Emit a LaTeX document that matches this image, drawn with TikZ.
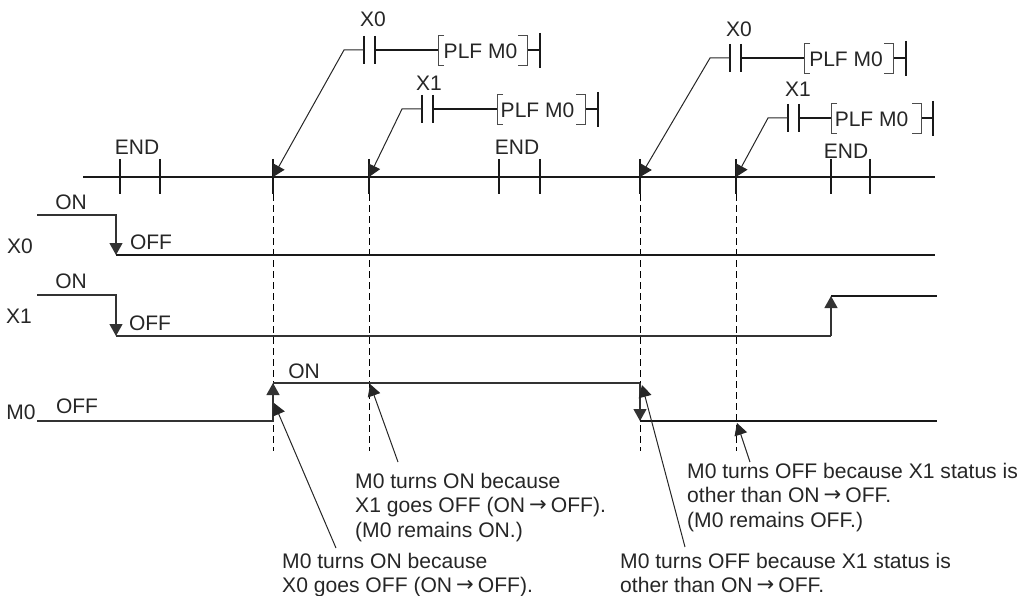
\documentclass[tikz,border=0pt]{standalone}
\usepackage{fontspec}
\setmainfont{Liberation Sans}
\newfontfamily\arrowfont{DejaVu Sans}
\newcommand{\toarrow}{\kern4pt{\arrowfont\raisebox{0.06em}{→}}\kern4pt}
\usetikzlibrary{arrows.meta}
\tikzset{
 x=1pt,y=-1pt,
 wire/.style={line width=1.2pt,draw=black!90},
 thick wire/.style={line width=1.9pt,draw=black!90},
 tick/.style={line width=1.4pt,draw=black!90},
 lead/.style={line width=1pt,draw=black!85},
 brk/.style={line width=0.9pt,draw=black!70},
 sig/.style={line width=1.2pt,draw=black!80},
 tip/.style={-{Triangle[length=12pt,width=13pt]}},
 dash line/.style={line width=0.8pt,draw=black,dash pattern=on 7pt off 4pt},
 lbl/.style={inner sep=0pt,font=\fontsize{21}{24}\selectfont,text=black!85},
 para/.style={inner sep=0pt,text=black!85,align=left,anchor=north west,font=\fontsize{21.1}{24.3}\selectfont},
}
\begin{document}
\begin{tikzpicture}
\useasboundingbox (0,0) rectangle (1022,596);
% time line
\coordinate (tl) at (83,177); \coordinate (tr) at (935,177);
\draw[thick wire] (tl) -- (tr);
\foreach \x in {120,160,273,369,499,540,640,736,831,870}
  \draw[tick] (\x,159) -- (\x,194);
\node[lbl] (e1) at (137,147) {END};
\node[lbl] (e2) at (517,147) {END};
\node[lbl] (e3) at (846,151) {END};
% dashed
\foreach \x in {273,369,640,736}
  \draw[dash line] (\x,194) -- (\x,451);
% ladder
\foreach \cl/\cr/\my/\bl/\br/\bar/\cx/\lx/\tx/\ty/\name/\ax in {
 364/375/50/438/527/540/344/480.5/373/19/X0/273,
 422/433/109/497/585/598/402/537.5/429/83/X1/369,
 730/741/58/804/893/906/710/846/739/29/X0/640,
 788/799/118/831/921/933/768/871.5/798/89/X1/736}{
  \draw[wire] (\cl,\my-14) -- (\cl,\my+14);
  \draw[wire] (\cr,\my-14) -- (\cr,\my+14);
  \draw[wire] (\cr,\my) -- (\bl,\my);
  \draw[wire] (\br,\my) -- (\bar,\my);
  \draw[tick] (\bar,\my-17) -- (\bar,\my+18);
  \draw[brk] (\bl+6,\my-15) -- (\bl,\my-15) -- (\bl,\my+15) -- (\bl+6,\my+15);
  \draw[brk] (\br-9,\my-15) -- (\br,\my-15) -- (\br,\my+15) -- (\br-9,\my+15);
  \node[lbl] at (\lx,\my+1) {PLF M0};
  \node[lbl] at (\tx,\ty) {\name};
  \draw[lead,tip] (\cl,\my) -- (\cx,\my) -- (\ax,177);
}
% X0
\draw[sig,tip] (37,215) -- (116,215) -- (116,255);
\draw[thick wire] (116,255) -- (935,255);
\node[lbl] at (71,202) {ON};
\node[lbl] at (151,242) {OFF};
\node[lbl] at (20,246) {X0};
% X1
\draw[sig,tip] (37,295) -- (116,295) -- (116,336);
\draw[sig] (116,336) -- (831,336);
\draw[sig,tip] (831,336) -- (831,296);
\draw[thick wire] (831,296) -- (937,296);
\node[lbl] at (71,281) {ON};
\node[lbl] at (150,323) {OFF};
\node[lbl] at (19,316) {X1};
% M0
\draw[sig,tip] (37,421) -- (273,421) -- (273,383);
\draw[sig] (273,383) -- (640,383);
\draw[sig,tip] (640,383) -- (640,421);
\draw[thick wire] (640,421) -- (937,421);
\node[lbl] at (304,371) {ON};
\node[lbl] at (77,406) {OFF};
\node[lbl] at (21,412) {M0};
% notes
\node[para] (n1) at (355,473) {M0 turns ON because\\X1 goes OFF (ON\toarrow OFF).\\(M0 remains ON.)};
\node[para] (n2) at (282,553) {M0 turns ON because\\X0 goes OFF (ON\toarrow OFF).};
\node[para] (n3) at (687,463) {M0 turns OFF because X1 status is\\other than ON\toarrow OFF.\\(M0 remains OFF.)};
\node[para] (n4) at (620,553) {M0 turns OFF because X1 status is\\other than ON\toarrow OFF.};
\draw[lead,tip] (398,462) -- (370,384);
\draw[lead,tip] (336,548) -- (274,403);
\draw[lead,tip] (685,547) -- (642,385);
\draw[lead,tip] (750,462) -- (737,423);
\end{tikzpicture}
\end{document}
